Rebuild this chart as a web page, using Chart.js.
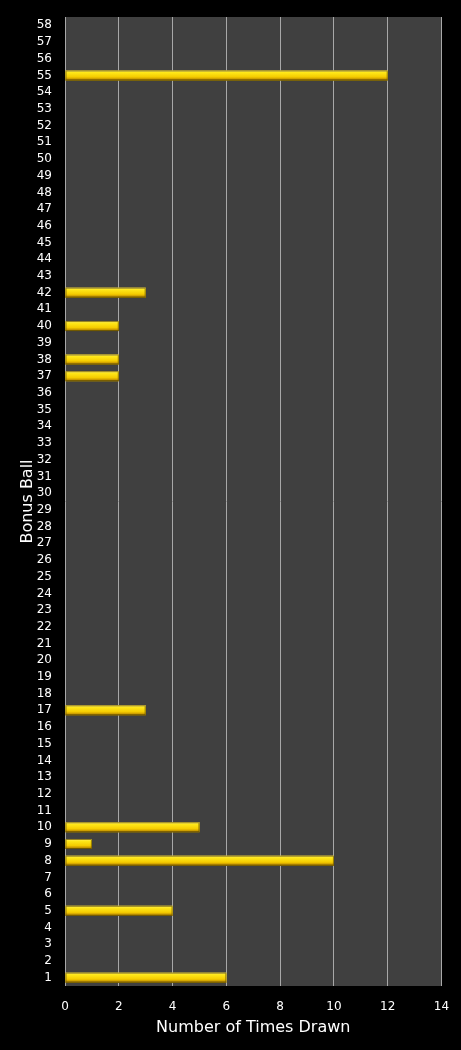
<!DOCTYPE html>
<html><head><meta charset="utf-8">
<script src="https://cdn.jsdelivr.net/npm/chart.js@4/dist/chart.umd.min.js"></script>
<style>html,body{margin:0;padding:0;background:#000;}#wrap{width:461px;height:1050px;}</style>
</head><body><div id="wrap"><canvas id="c"></canvas></div>
<script>
const balls = Array.from({length:58},(_,i)=>String(i+1));
const drawnBalls = ['1','5','8','9','10','17','37','38','40','42','55'];
const drawnCounts = [6,4,10,1,5,3,2,2,2,3,12];
const xTicks = [0,2,4,6,8,10,12,14];
const values = balls.map(b=>{const k=drawnBalls.indexOf(b);return k>=0?drawnCounts[k]:0;});

const plotBg = {id:'plotBg',beforeDraw(ch){const a=ch.chartArea,c=ch.ctx;c.save();c.fillStyle='#000';c.fillRect(0,0,ch.width,ch.height);c.fillStyle='#404040';c.fillRect(a.left,a.top,a.right-a.left,a.bottom-a.top);c.restore();}};
const barGrad = {id:'barGrad',afterDatasetsDraw(ch){const c=ch.ctx;const meta=ch.getDatasetMeta(0);c.save();meta.data.forEach((el,i)=>{if(!values[i])return;const h=el.height,t=el.y-h/2;const g=c.createLinearGradient(0,t,0,t+h);g.addColorStop(0,'#fff380');g.addColorStop(0.2,'#ffe81a');g.addColorStop(0.65,'#f5cc00');g.addColorStop(0.85,'#c89800');g.addColorStop(1,'#6a5000');c.fillStyle=g;c.fillRect(el.base,t,el.x-el.base,h);c.strokeStyle='rgba(100,80,0,0.7)';c.lineWidth=1;c.strokeRect(el.base+0.5,t+0.5,el.x-el.base-1,h-1);});c.restore();}};

new Chart(document.getElementById('c'),{
 type:'bar',
 data:{labels:balls,datasets:[{data:values,backgroundColor:'#f5cc00',barPercentage:0.6,categoryPercentage:1}]},
 options:{indexAxis:'y',responsive:true,maintainAspectRatio:false,animation:false,
  layout:{padding:{top:17,right:19.5,bottom:0,left:18}},
  plugins:{legend:{display:false},tooltip:{enabled:false}},
  scales:{
   y:{reverse:true,grid:{display:false},border:{display:false},
      ticks:{color:'#fff',font:{family:'DejaVu Sans',size:12},padding:5,autoSkip:false},
      title:{display:true,text:'Bonus Ball',color:'#fff',font:{family:'DejaVu Sans',size:16},padding:{top:0,bottom:4}},
      afterFit(s){s.width=47;s.paddingTop=0;s.paddingBottom=0;}},
   x:{min:0,max:14,grid:{color:'#a8a8a8',lineWidth:1,drawTicks:false},border:{display:false},
      afterBuildTicks(s){s.ticks=xTicks.map(v=>({value:v}));},
      ticks:{color:'#fff',font:{family:'DejaVu Sans',size:12},padding:14,maxRotation:0},
      title:{display:true,text:'Number of Times Drawn',color:'#fff',font:{family:'DejaVu Sans',size:16},padding:{top:6,bottom:13}},
      afterFit(s){s.height=64;s.paddingRight=0;s.paddingLeft=0;}}
  }},
 plugins:[plotBg,barGrad]
});
</script></body></html>
